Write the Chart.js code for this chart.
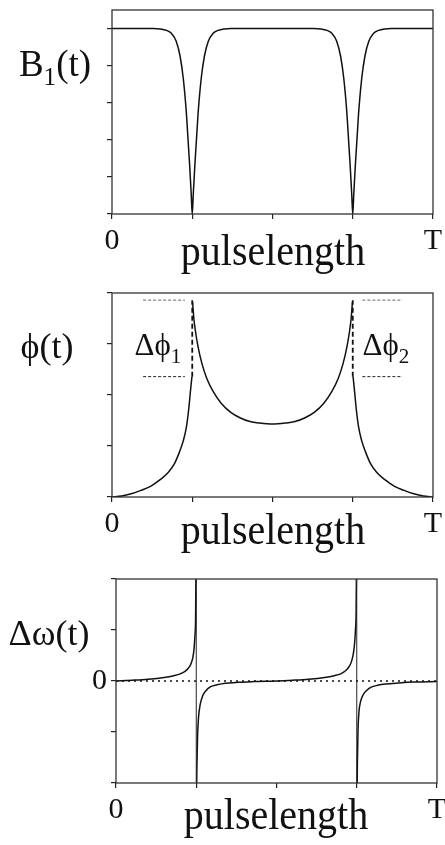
<!DOCTYPE html>
<html>
<head>
<meta charset="utf-8">
<script src="https://cdn.jsdelivr.net/npm/chart.js@4"></script>
<style>
  html, body { margin: 0; padding: 0; background: #fff; }
  #fig { position: relative; width: 445px; height: 845px; overflow: hidden;
         font-family: "Liberation Serif", "Times New Roman", serif; color: #111; }
  #fig canvas { position: absolute; left: 0; }
  .lbl { position: absolute; white-space: nowrap; line-height: 1; transform: translate(-50%, -50%); }
  .lbl sub { font-size: 68%; vertical-align: -0.38em; line-height: 0; }
  .xt { transform: translate(-50%, -50%) scaleY(1.12); }
</style>
</head>
<body>
<div id="fig">
  <canvas id="c1" width="445" height="280" style="top:0"></canvas>
  <canvas id="c2" width="445" height="280" style="top:280px"></canvas>
  <canvas id="c3" width="445" height="285" style="top:560px"></canvas>

  <div class="lbl" style="left:55px;top:63px;font-size:37px">B<sub>1</sub>(t)</div>
  <div class="lbl xt" style="left:273px;top:250px;font-size:40px">pulselength</div>

  <div class="lbl" style="left:47px;top:346px;font-size:36px">&#x3D5;(t)</div>
  <div class="lbl" style="left:158px;top:344px;font-size:31px">&Delta;&#x3D5;<sub>1</sub></div>
  <div class="lbl" style="left:386px;top:344px;font-size:31px">&Delta;&#x3D5;<sub>2</sub></div>
  <div class="lbl xt" style="left:273px;top:529px;font-size:40px">pulselength</div>

  <div class="lbl" style="left:49px;top:633px;font-size:36px">&Delta;&omega;(t)</div>
  <div class="lbl xt" style="left:276px;top:814px;font-size:40px">pulselength</div>
</div>

<script>
/* ---- amplitude B1(t): two sharp dips at T/4 and 3T/4 ---- */
const b1T = [0, 0.13, 0.15, 0.17, 0.185, 0.20, 0.212, 0.222, 0.232, 0.242, 0.247, 0.25,
             0.253, 0.258, 0.268, 0.278, 0.288, 0.30, 0.315, 0.33, 0.35, 0.37, 0.5,
             0.63, 0.65, 0.67, 0.685, 0.70, 0.712, 0.722, 0.732, 0.742, 0.747, 0.75,
             0.753, 0.758, 0.768, 0.778, 0.788, 0.80, 0.815, 0.83, 0.85, 0.87, 1];
const b1Val = [5, 5, 4.99, 4.95, 4.87, 4.66, 4.26, 3.66, 2.69, 1.30, 0.50, 0,
               0.50, 1.30, 2.69, 3.66, 4.26, 4.66, 4.87, 4.95, 4.99, 5, 5,
               5, 4.99, 4.95, 4.87, 4.66, 4.26, 3.66, 2.69, 1.30, 0.50, 0,
               0.50, 1.30, 2.69, 3.66, 4.26, 4.66, 4.87, 4.95, 4.99, 5, 5];

/* ---- phase phi(t): three branches with jumps at T/4 and 3T/4 ---- */
const phiLeftT   = [0, 0.03, 0.06, 0.09, 0.12, 0.15, 0.175, 0.195, 0.21, 0.222, 0.232, 0.239, 0.244, 0.249];
const phiLeftVal = [0, 0.02, 0.065, 0.13, 0.21, 0.34, 0.48, 0.66, 0.88, 1.10, 1.38, 1.72, 2.05, 2.36];
const phiMidT    = [0.251, 0.255, 0.26, 0.268, 0.28, 0.295, 0.315, 0.34, 0.37, 0.40, 0.43, 0.46, 0.5,
                    0.54, 0.57, 0.60, 0.63, 0.66, 0.685, 0.705, 0.72, 0.732, 0.74, 0.745, 0.749];
const phiMidVal  = [3.82, 3.50, 3.25, 2.95, 2.62, 2.33, 2.07, 1.84, 1.66, 1.55, 1.48, 1.45, 1.43,
                    1.45, 1.48, 1.55, 1.66, 1.84, 2.07, 2.33, 2.62, 2.95, 3.25, 3.50, 3.82];
const phiRightT   = [0.751, 0.756, 0.761, 0.768, 0.778, 0.79, 0.805, 0.825, 0.85, 0.88, 0.91, 0.94, 0.97, 1];
const phiRightVal = [2.36, 2.05, 1.72, 1.38, 1.10, 0.88, 0.66, 0.48, 0.34, 0.21, 0.13, 0.065, 0.02, 0];
// phase jump markers (levels before / after each jump)
const jumpLow  = 2.36;
const jumpHigh = 3.86;
const jumpLeftSpan  = [0.097, 0.227];
const jumpRightSpan = [0.780, 0.905];

/* ---- frequency offset dw(t) ---- */
const dwAT   = [0, 0.05, 0.1, 0.15, 0.18, 0.2, 0.215, 0.225, 0.233, 0.239, 0.243, 0.246, 0.248, 0.2495];
const dwAVal = [0, 0.015, 0.035, 0.07, 0.105, 0.14, 0.19, 0.25, 0.33, 0.45, 0.62, 0.9, 1.25, 2.5];
const dwBT   = [0.2505, 0.252, 0.254, 0.257, 0.262, 0.27, 0.28, 0.295, 0.315, 0.34, 0.38, 0.43, 0.5,
                0.55, 0.6, 0.65, 0.68, 0.70, 0.715, 0.725, 0.733, 0.739, 0.743, 0.746, 0.748, 0.7495];
const dwBVal = [-2.5, -1.7, -1.1, -0.72, -0.47, -0.29, -0.19, -0.11, -0.075, -0.045, -0.025, -0.012, 0,
                0.015, 0.035, 0.07, 0.105, 0.14, 0.2, 0.27, 0.37, 0.52, 0.72, 1.0, 1.35, 2.5];
const dwCT   = [0.7505, 0.752, 0.754, 0.757, 0.762, 0.77, 0.78, 0.795, 0.815, 0.84, 0.88, 0.93, 1];
const dwCVal = [-2.5, -1.6, -0.95, -0.6, -0.4, -0.27, -0.19, -0.12, -0.085, -0.06, -0.04, -0.022, -0.01];
const dwSpikes = [0.25, 0.75];

const xTicks = { 0: '0', 1: 'T' };

const SERIF = '"Liberation Serif", "Times New Roman", serif';
const INK = '#111';

function pts(ts, vs) { return ts.map((t, i) => ({ x: t, y: vs[i] })); }

function curve(ts, vs) {
  return { data: pts(ts, vs), borderColor: INK, borderWidth: 1.5, cubicInterpolationMode: 'monotone' };
}
function straight(points, style) {
  return Object.assign({ data: points, borderColor: INK, borderWidth: 1,
                         cubicInterpolationMode: 'default', tension: 0 }, style);
}

// box round the plotting area
const framePlugin = {
  id: 'frame',
  afterDatasetsDraw(chart) {
    const { ctx, chartArea: a } = chart;
    ctx.save();
    ctx.strokeStyle = '#333';
    ctx.lineWidth = 1.3;
    ctx.strokeRect(a.left, a.top, a.right - a.left, a.bottom - a.top);
    ctx.restore();
  }
};

function makePanel(id, cfg) {
  return new Chart(document.getElementById(id), {
    type: 'line',
    data: { datasets: cfg.datasets },
    options: {
      responsive: false,
      animation: false,
      events: [],
      layout: { padding: { left: 0, right: cfg.padRight, top: cfg.padTop, bottom: 0 } },
      plugins: { legend: { display: false }, tooltip: { enabled: false } },
      elements: { point: { radius: 0 } },
      scales: {
        x: {
          type: 'linear', min: 0, max: 1,
          afterFit(s) { s.height = cfg.xHeight; s.paddingLeft = 0; s.paddingRight = 0; },
          border: { display: false },
          grid: { drawOnChartArea: false, tickLength: 5, color: '#222', lineWidth: 1.2 },
          ticks: {
            stepSize: 0.25, padding: 4, autoSkip: false, maxRotation: 0, includeBounds: false,
            color: INK, font: { family: SERIF, size: 30 },
            callback: v => xTicks[v] || ''
          }
        },
        y: {
          min: cfg.yMin, max: cfg.yMax,
          afterFit(s) { s.width = cfg.yWidth; s.paddingTop = 0; s.paddingBottom = 0; },
          border: { display: false },
          grid: { drawOnChartArea: false, tickLength: 5, color: '#222', lineWidth: 1.2 },
          ticks: {
            stepSize: 1, padding: 4, includeBounds: false,
            color: INK, font: { family: SERIF, size: 30 },
            callback: v => (cfg.yLabels && cfg.yLabels[v] !== undefined) ? cfg.yLabels[v] : ''
          }
        }
      }
    },
    plugins: [framePlugin]
  });
}

/* B1(t) */
makePanel('c1', {
  padTop: 10, padRight: 12, xHeight: 66, yWidth: 112, yMin: 0, yMax: 5.5,
  datasets: [curve(b1T, b1Val)]
});

/* phi(t) */
const dashLight = { borderColor: '#666', borderWidth: 1, borderDash: [3, 2] };
const dashDark  = { borderColor: '#222', borderWidth: 1, borderDash: [3, 2] };
const dashJump  = { borderColor: '#111', borderWidth: 1.8, borderDash: [5, 3] };
makePanel('c2', {
  padTop: 13, padRight: 12, xHeight: 63, yWidth: 112, yMin: 0, yMax: 4,
  datasets: [
    straight([{ x: jumpLeftSpan[0], y: jumpHigh }, { x: jumpLeftSpan[1], y: jumpHigh }], dashLight),
    straight([{ x: jumpLeftSpan[0], y: jumpLow }, { x: jumpLeftSpan[1], y: jumpLow }], dashDark),
    straight([{ x: jumpRightSpan[0], y: jumpHigh }, { x: jumpRightSpan[1], y: jumpHigh }], dashLight),
    straight([{ x: jumpRightSpan[0], y: jumpLow }, { x: jumpRightSpan[1], y: jumpLow }], dashDark),
    straight([{ x: 0.25, y: jumpLow }, { x: 0.25, y: jumpHigh }], dashJump),
    straight([{ x: 0.75, y: jumpLow }, { x: 0.75, y: jumpHigh }], dashJump),
    curve(phiLeftT, phiLeftVal),
    curve(phiMidT, phiMidVal),
    curve(phiRightT, phiRightVal)
  ]
});

/* dw(t) */
makePanel('c3', {
  padTop: 19, padRight: 8, xHeight: 62, yWidth: 116, yMin: -2, yMax: 2,
  yLabels: { 0: '0' },
  datasets: [
    straight([{ x: 0, y: 0 }, { x: 1, y: 0 }], { borderColor: '#111', borderWidth: 1.6, borderDash: [2, 4] }),
    ...dwSpikes.map(t => straight([{ x: t, y: -2 }, { x: t, y: 2 }], { borderColor: '#222', borderWidth: 1 })),
    curve(dwAT, dwAVal),
    curve(dwBT, dwBVal),
    curve(dwCT, dwCVal)
  ]
});
</script>
</body>
</html>
